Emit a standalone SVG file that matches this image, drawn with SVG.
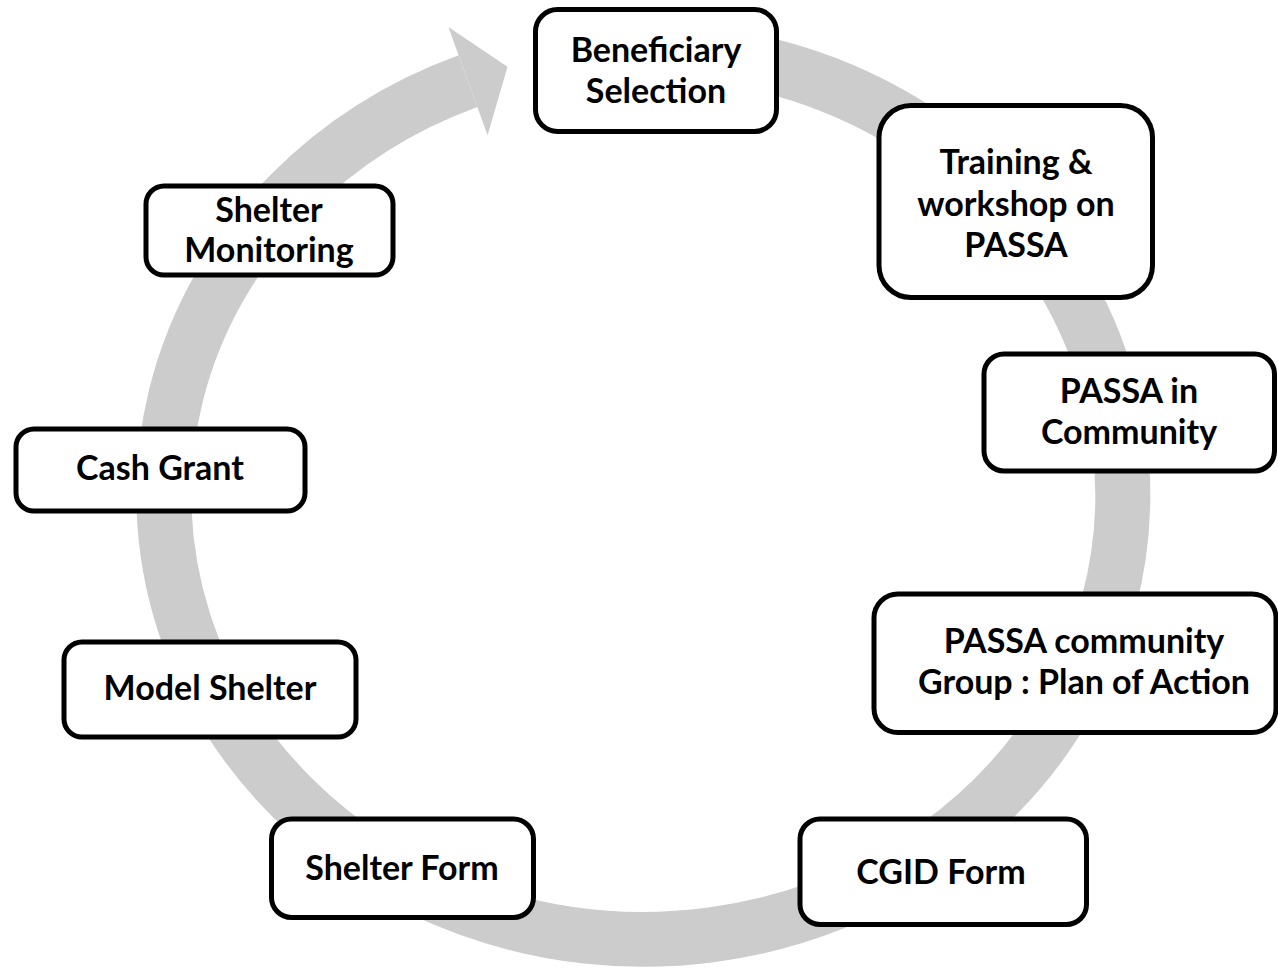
<svg xmlns="http://www.w3.org/2000/svg" width="1278" height="968" viewBox="0 0 1278 968">
<style>
.box{fill:#FFFFFF;stroke:#000000;stroke-width:5}
.lbl{font-family:Lato,"Liberation Sans",sans-serif;font-weight:700;font-size:34px;fill:#000000;text-anchor:middle}
.ring{fill:none;stroke:#CCCCCC;stroke-width:55}
.head{fill:#CCCCCC}
</style>
<rect x="0" y="0" width="1278" height="968" fill="#FFFFFF"/>
<g id="connectors">
<path class="ring" d="M 685 52 A 479.5 444.5 0 1 1 468 81.1"/>
<polygon class="head" points="448.4,27 507.5,66.8 487.6,135.2"/>
</g>
<g id="beneficiary">
<rect class="box" x="535.5" y="9.5" width="241" height="122" rx="22"/>
<text class="lbl" x="656" y="62">Beneficiary</text>
<text class="lbl" x="656" y="103">Selection</text>
</g>
<g id="training">
<rect class="box" x="879" y="105.5" width="273.5" height="192" rx="32"/>
<text class="lbl" x="1016" y="174">Training &amp;</text>
<text class="lbl" x="1016" y="216">workshop on</text>
<text class="lbl" x="1016" y="257">PASSA</text>
</g>
<g id="passa-community">
<rect class="box" x="984" y="354" width="290.5" height="117" rx="20"/>
<text class="lbl" x="1129" y="403">PASSA in</text>
<text class="lbl" x="1129" y="444">Community</text>
</g>
<g id="plan-of-action">
<rect class="box" x="874" y="594" width="402" height="138.5" rx="24"/>
<text class="lbl" x="1084" y="653">PASSA community</text>
<text class="lbl" x="1084" y="694">Group : Plan of Action</text>
</g>
<g id="cgid-form">
<rect class="box" x="800" y="819" width="286.5" height="105.5" rx="20"/>
<text class="lbl" x="941" y="884">CGID Form</text>
</g>
<g id="shelter-form">
<rect class="box" x="271.5" y="819" width="262" height="98.5" rx="20"/>
<text class="lbl" x="402" y="880">Shelter Form</text>
</g>
<g id="model-shelter">
<rect class="box" x="64" y="642" width="292" height="95" rx="18"/>
<text class="lbl" x="210" y="700">Model Shelter</text>
</g>
<g id="cash-grant">
<rect class="box" x="16" y="429" width="289" height="82" rx="18"/>
<text class="lbl" x="160" y="480">Cash Grant</text>
</g>
<g id="shelter-monitoring">
<rect class="box" x="146" y="186" width="247" height="89" rx="18"/>
<text class="lbl" x="269" y="222">Shelter</text>
<text class="lbl" x="269" y="262">Monitoring</text>
</g>
</svg>
